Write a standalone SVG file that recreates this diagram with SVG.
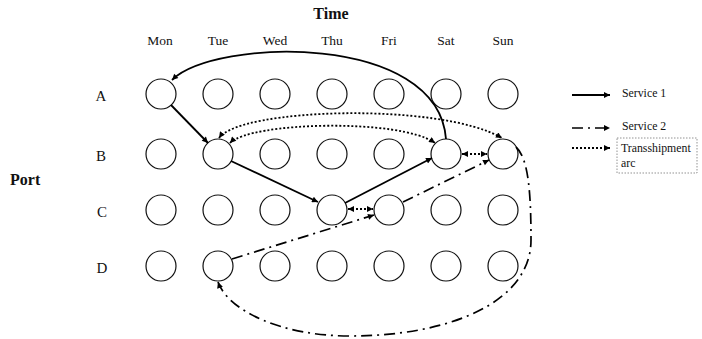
<svg xmlns="http://www.w3.org/2000/svg" width="702" height="339" viewBox="0 0 702 339">
<style>
text{font-family:"Liberation Serif","Times New Roman",serif;fill:#111}
.title{font-size:16px;font-weight:bold}
.day{font-size:13.5px;text-anchor:middle}
.row{font-size:15px;text-anchor:middle}
.leg{font-size:11.8px}
.node circle{fill:#fff;stroke:#111;stroke-width:1.2}
.s1{fill:none;stroke:#000;stroke-width:1.8}
.s2{fill:none;stroke:#000;stroke-width:1.7;stroke-dasharray:11 5 2 5}
.tr{fill:none;stroke:#000;stroke-width:1.8;stroke-dasharray:2 2}
</style>
<defs>
<marker id="ah" viewBox="0 0 10 10" refX="10" refY="5" markerWidth="7" markerHeight="6" markerUnits="userSpaceOnUse" orient="auto-start-reverse">
<path d="M0,0 L10,5 L0,10 z" fill="#000"/>
</marker>
</defs>
<rect width="702" height="339" fill="#fff"/>
<text class="title" x="331" y="19" text-anchor="middle">Time</text>
<text class="title" x="10" y="185">Port</text>
<g id="days">
<text class="day" x="160" y="45">Mon</text>
<text class="day" x="218" y="45">Tue</text>
<text class="day" x="275" y="45">Wed</text>
<text class="day" x="332" y="45">Thu</text>
<text class="day" x="389" y="45">Fri</text>
<text class="day" x="446" y="45">Sat</text>
<text class="day" x="503" y="45">Sun</text>
</g>
<g id="rows">
<text class="row" x="101" y="101">A</text>
<text class="row" x="101" y="161">B</text>
<text class="row" x="102" y="217">C</text>
<text class="row" x="102" y="273">D</text>
</g>
<g id="nodes">
<g class="node" id="A-Mon"><circle cx="161" cy="94" r="15"/></g>
<g class="node" id="A-Tue"><circle cx="218" cy="94" r="15"/></g>
<g class="node" id="A-Wed"><circle cx="275" cy="94" r="15"/></g>
<g class="node" id="A-Thu"><circle cx="332" cy="94" r="15"/></g>
<g class="node" id="A-Fri"><circle cx="389" cy="94" r="15"/></g>
<g class="node" id="A-Sat"><circle cx="446" cy="94" r="15"/></g>
<g class="node" id="A-Sun"><circle cx="503" cy="94" r="15"/></g>
<g class="node" id="B-Mon"><circle cx="161" cy="154" r="15"/></g>
<g class="node" id="B-Tue"><circle cx="218" cy="154" r="15"/></g>
<g class="node" id="B-Wed"><circle cx="275" cy="154" r="15"/></g>
<g class="node" id="B-Thu"><circle cx="332" cy="154" r="15"/></g>
<g class="node" id="B-Fri"><circle cx="389" cy="154" r="15"/></g>
<g class="node" id="B-Sat"><circle cx="446" cy="154" r="15"/></g>
<g class="node" id="B-Sun"><circle cx="503" cy="154" r="15"/></g>
<g class="node" id="C-Mon"><circle cx="161" cy="210" r="15"/></g>
<g class="node" id="C-Tue"><circle cx="218" cy="210" r="15"/></g>
<g class="node" id="C-Wed"><circle cx="275" cy="210" r="15"/></g>
<g class="node" id="C-Thu"><circle cx="332" cy="210" r="15"/></g>
<g class="node" id="C-Fri"><circle cx="389" cy="210" r="15"/></g>
<g class="node" id="C-Sat"><circle cx="446" cy="210" r="15"/></g>
<g class="node" id="C-Sun"><circle cx="503" cy="210" r="15"/></g>
<g class="node" id="D-Mon"><circle cx="161" cy="266" r="15"/></g>
<g class="node" id="D-Tue"><circle cx="218" cy="266" r="15"/></g>
<g class="node" id="D-Wed"><circle cx="275" cy="266" r="15"/></g>
<g class="node" id="D-Thu"><circle cx="332" cy="266" r="15"/></g>
<g class="node" id="D-Fri"><circle cx="389" cy="266" r="15"/></g>
<g class="node" id="D-Sat"><circle cx="446" cy="266" r="15"/></g>
<g class="node" id="D-Sun"><circle cx="503" cy="266" r="15"/></g>
</g>
<g id="connectors">
<path class="s1" d="M446,139 C438,32 215,38 172,80" marker-end="url(#ah)"/>
<path class="s1" d="M171,105 L208,143" marker-end="url(#ah)"/>
<path class="s1" d="M231,161 L318,202" marker-end="url(#ah)"/>
<path class="s1" d="M345,203 L432,158" marker-end="url(#ah)"/>
<path class="s2" d="M232,259 L374,215" marker-end="url(#ah)"/>
<path class="s2" d="M403,202 L489,160" marker-end="url(#ah)"/>
<path class="s2" d="M516,147 C528,158 531,190 531,240 C531,302 450,336 350,336 C280,336 228,310 218,282" marker-end="url(#ah)"/>
<path class="tr" d="M219,138 C240,108 440,102 502,138" marker-start="url(#ah)" marker-end="url(#ah)"/>
<path class="tr" d="M230,143 C250,122 400,118 435,143" marker-start="url(#ah)" marker-end="url(#ah)"/>
<path class="tr" d="M348,209 L373,209" marker-start="url(#ah)" marker-end="url(#ah)"/>
<path class="tr" d="M462,154 L487,154" marker-start="url(#ah)" marker-end="url(#ah)"/>
</g>
<g id="legend">
<path class="s1" d="M572,95 L610,95" marker-end="url(#ah)"/>
<text class="leg" x="622" y="97">Service 1</text>
<path class="s2" d="M572,128 L610,128" marker-end="url(#ah)"/>
<text class="leg" x="622" y="130">Service 2</text>
<path class="tr" d="M572,148 L610,148" marker-end="url(#ah)"/>
<rect x="617" y="138" width="80" height="35" fill="none" stroke="#777" stroke-width="0.8" stroke-dasharray="1.5 1.5"/>
<text class="leg" x="621" y="152">Transshipment</text>
<text class="leg" x="621" y="167">arc</text>
</g>
</svg>
